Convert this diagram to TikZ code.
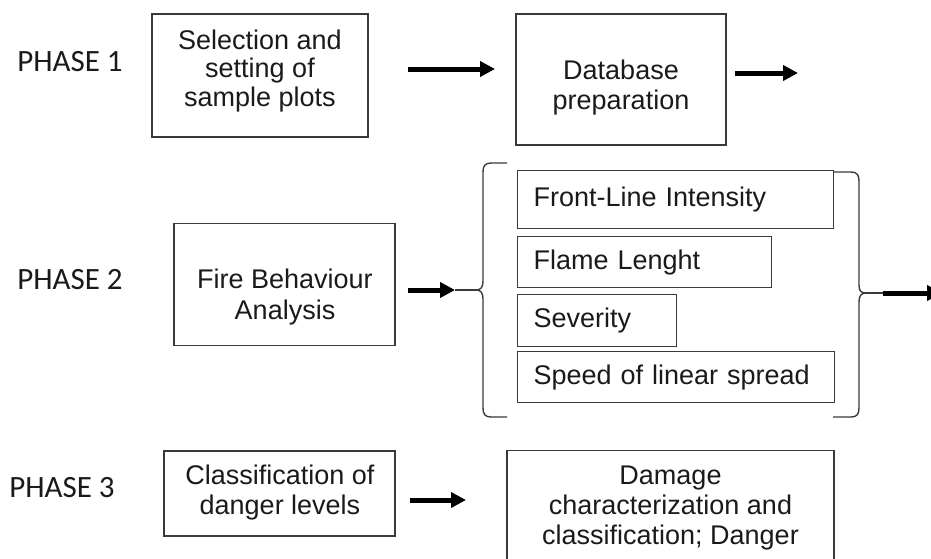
\documentclass[tikz,border=0pt]{standalone}
\usepackage{fontspec}
\setmainfont{Liberation Sans}
\newfontfamily\phasefont{Carlito}
\usetikzlibrary{arrows.meta}
\definecolor{edge}{HTML}{3A3A3A}
\definecolor{ink}{HTML}{1A1A1A}
\begin{document}
\begin{tikzpicture}[x=1pt,y=-1pt,
  box/.style={draw=edge,line width=1.3pt,inner sep=0pt},
  txt/.style={inner sep=0pt,align=center,text=ink,
    font=\fontsize{27}{30}\selectfont},
  lbox/.style={draw=edge,line width=1.3pt,inner ysep=0pt,inner xsep=16pt,anchor=north west,text=ink,
    font=\fontsize{27}{30}\selectfont},
  phase/.style={text=ink,font=\phasefont\fontsize{31}{34}\selectfont,inner sep=0pt},
  arr/.style={line width=5pt,black,-{Triangle[length=15pt,width=15pt]}},
  brace/.style={draw=edge,line width=1.4pt,line join=round}]
\useasboundingbox (0,0) rectangle (931,558);
\clip (0,0) rectangle (931,558);
% phase labels
\node[phase] (p1) at (70,62) {PHASE 1};
\node[phase] (p2) at (70,280) {PHASE 2};
\node[phase] (p3) at (62,488) {PHASE 3};
% phase 1
\node[box,minimum width=216,minimum height=123] (sel) at (260,75.5) {};
\node[txt,font=\fontsize{27}{28.5}\selectfont] (selt) at (260,71) {Selection and\\setting of\\sample plots};
\node[box,minimum width=210,minimum height=131] (db) at (621,79.5) {};
\node[txt] (dbt) at (621,88) {Database\\preparation};
\coordinate (a1s) at (408,69); \coordinate (a1e) at (495,69);
\draw[arr] (a1s) -- (a1e);
\coordinate (a2s) at (735,73); \coordinate (a2e) at (798,73);
\draw[arr] (a2s) -- (a2e);
% phase 2
\node[box,minimum width=221,minimum height=122,anchor=north] (fba) at (284.5,223) {};
\node[txt,font=\fontsize{27}{31}\selectfont] (fbat) at (285,297) {Fire Behaviour\\Analysis};
\node[lbox,minimum width=316,minimum height=58,text width=284] (fli) at (517,170) {Front-Line Intensity};
\node[lbox,minimum width=254,minimum height=51,text width=222] (fl) at (517,236) {Flame Lenght};
\node[lbox,minimum width=159,minimum height=52,text width=127] (sev) at (517,294) {Severity};
\node[lbox,minimum width=317,minimum height=51,text width=285] (spd) at (517,351) {Speed of linear spread};
% left brace
\coordinate (lb) at (476,290);
\draw[brace] (507,163) -- (491,163) .. controls (485,163) and (483,166) .. (483,172)
  -- (483,281) .. controls (483,287) and (481,290) .. (lb)
  .. controls (481,290) and (483,293) .. (483,299)
  -- (483,408) .. controls (483,414) and (485,417) .. (491,417) -- (507,417);
\coordinate (a3s) at (408,290); \coordinate (a3e) at (455,290);
\draw[arr] (a3s) -- (a3e);
\draw[brace] (a3e) -- (lb);
% right brace
\coordinate (rb) at (866,293);
\draw[brace] (833,172) -- (851,172) .. controls (857,172) and (859,175) .. (859,181)
  -- (859,285) .. controls (859,291) and (861,293) .. (rb)
  .. controls (861,293) and (859,296) .. (859,302)
  -- (859,408) .. controls (859,414) and (857,417) .. (851,417) -- (833,417);
\coordinate (a5s) at (883,293); \coordinate (a5e) at (942,293);
\draw[brace] (rb) -- (a5s);
\draw[arr] (a5s) -- (a5e);
% phase 3
\node[box,minimum width=231,minimum height=85] (cls) at (279.5,493.5) {};
\node[txt] (clst) at (280,493) {Classification of\\danger levels};
\node[box,minimum width=327,minimum height=170,anchor=north] (dmg) at (670.5,450) {};
\node[txt,anchor=north] (dmgt) at ([yshift=-16pt]dmg.north) {Damage\\characterization and\\classification; Danger};
\coordinate (a4s) at (410,500); \coordinate (a4e) at (466,500);
\draw[arr] (a4s) -- (a4e);
\end{tikzpicture}
\end{document}
